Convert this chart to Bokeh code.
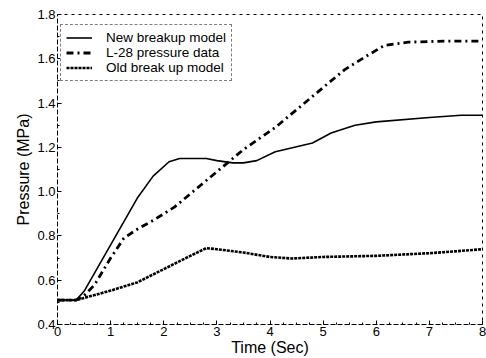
from bokeh.plotting import figure
from bokeh.models import Legend, LegendItem, FixedTicker, Range1d, NumeralTickFormatter
from bokeh.embed import file_html
from bokeh.resources import INLINE

# Data
t_new = [0, 0.35, 0.5, 1.0, 1.5, 1.8, 2.1, 2.3, 2.8, 3.0, 3.3, 3.5, 3.75, 4.1, 4.8, 5.15, 5.6, 6.0, 7.0, 7.6, 8.0]
p_new = [0.51, 0.51, 0.55, 0.76, 0.97, 1.07, 1.135, 1.15, 1.15, 1.14, 1.13, 1.13, 1.14, 1.18, 1.22, 1.265, 1.30, 1.315, 1.335, 1.345, 1.345]

t_l28 = [0, 0.35, 0.5, 0.7, 1.0, 1.25, 1.5, 1.8, 2.2, 2.7, 3.0, 3.5, 4.1, 4.8, 5.4, 5.8, 6.15, 6.6, 7.3, 8.0]
p_l28 = [0.51, 0.51, 0.53, 0.58, 0.70, 0.79, 0.83, 0.87, 0.93, 1.03, 1.09, 1.19, 1.29, 1.43, 1.55, 1.61, 1.66, 1.675, 1.68, 1.68]

t_old = [0, 0.35, 0.5, 1.0, 1.5, 2.0, 2.5, 2.8, 3.0, 3.5, 4.0, 4.4, 5.0, 6.0, 7.0, 7.3, 8.0]
p_old = [0.51, 0.51, 0.52, 0.553, 0.59, 0.65, 0.71, 0.745, 0.74, 0.725, 0.705, 0.698, 0.705, 0.71, 0.722, 0.727, 0.74]

x_ticks = [0, 1, 2, 3, 4, 5, 6, 7, 8]
y_ticks = [0.4, 0.6, 0.8, 1.0, 1.2, 1.4, 1.6, 1.8]
labels = ["New breakup model", "L-28 pressure data", "Old break up model"]

FONT = "Liberation Sans"

p = figure(width=486, height=358, output_backend="svg", toolbar_location=None,
           x_range=Range1d(0, 8), y_range=Range1d(0.4, 1.8),
           min_border_left=57, min_border_right=4, min_border_top=14, min_border_bottom=33)
p.grid.visible = False
p.outline_line_color = "black"
p.outline_line_dash = "3 4"
p.outline_line_width = 1
p.background_fill_color = "white"
p.border_fill_color = "white"

r1 = p.line(t_new, p_new, line_color="black", line_width=1.6)
r2 = p.line(t_l28, p_l28, line_color="black", line_width=2.8, line_dash="7 4 2 4")
r3 = p.line(t_old, p_old, line_color="black", line_width=2.6, line_dash="3 1")

for ax in (p.xaxis[0], p.yaxis[0]):
    ax.major_label_text_font = FONT
    ax.major_label_text_font_size = "13px"
    ax.major_label_text_color = "black"
    ax.axis_label_text_font = FONT
    ax.axis_label_text_font_size = "16px"
    ax.axis_label_text_font_style = "normal"
    ax.axis_label_text_color = "black"
    ax.axis_line_color = "black"
    ax.axis_line_dash = "3 4"
    ax.major_tick_in = 4
    ax.major_tick_out = 0
    ax.minor_tick_in = 2
    ax.minor_tick_out = 0

p.xaxis[0].ticker = FixedTicker(ticks=x_ticks, minor_ticks=[i * 0.25 for i in range(33)])
p.yaxis[0].ticker = FixedTicker(ticks=y_ticks, minor_ticks=[0.4 + i * 0.1 for i in range(15)])
p.yaxis[0].formatter = NumeralTickFormatter(format="0.0")
p.xaxis[0].axis_label = "Time (Sec)"
p.yaxis[0].axis_label = "Pressure (MPa)"
p.xaxis[0].axis_label_standoff = 0
p.yaxis[0].axis_label_standoff = 2
p.xaxis[0].major_label_standoff = 2
p.yaxis[0].major_label_standoff = 2

legend = Legend(items=[LegendItem(label=labels[0], renderers=[r1]),
                       LegendItem(label=labels[1], renderers=[r2]),
                       LegendItem(label=labels[2], renderers=[r3])],
                location=(3, 243))
legend.label_text_font = FONT
legend.label_text_font_size = "13.5px"
legend.label_text_color = "black"
legend.label_text_line_height = 1.0
legend.glyph_width = 26
legend.glyph_height = 15
legend.label_height = 15
legend.spacing = 0
legend.padding = 5
legend.margin = 0
legend.label_standoff = 14
legend.border_line_color = "black"
legend.border_line_dash = "3 4"
legend.border_line_width = 1
legend.background_fill_alpha = 1
p.add_layout(legend)

open("out.html", "w").write(file_html(p, INLINE))
